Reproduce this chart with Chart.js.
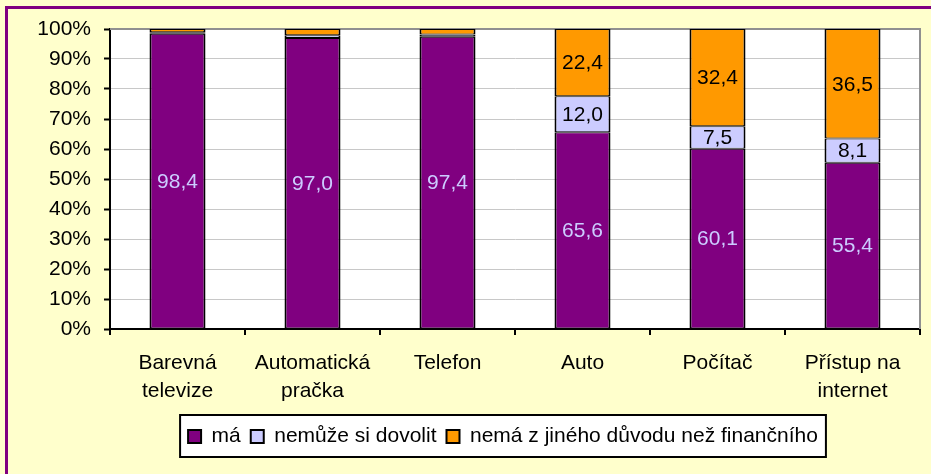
<!DOCTYPE html>
<html>
<head>
<meta charset="utf-8">
<script src="https://cdn.jsdelivr.net/npm/chart.js@4.4.1/dist/chart.umd.min.js"></script>
<style>
  html, body { margin: 0; padding: 0; background: #ffffcc; }
  #wrap { width: 931px; height: 474px; }
</style>
</head>
<body>
<div id="wrap"><canvas id="chart" width="931" height="474"></canvas></div>
<script>
// data (percent of households)
const categories = [['Barevná', 'televize'], ['Automatická', 'pračka'], 'Telefon', 'Auto', 'Počítač', ['Přístup na', 'internet']];
const ma = [98.4, 97.0, 97.4, 65.6, 60.1, 55.4];
const nemuzeSiDovolit = [0.5, 0.9, 0.8, 12.0, 7.5, 8.1];
const jinyDuvod = [1.1, 2.1, 1.8, 22.4, 32.4, 36.5];
const seriesNames = ['má', 'nemůže si dovolit', 'nemá z jiného důvodu než finančního'];
const yTicks = [0, 10, 20, 30, 40, 50, 60, 70, 80, 90, 100];

const FONT = '"Liberation Sans", Arial, sans-serif';
const LEGEND_CENTER = 503; // legend box sits right of centre in the original

// background, purple frame, white plot area, legend box
const framePlugin = {
  id: 'frame',
  afterUpdate(chart) {
    // move the legend so its box is centred where the original one is
    const lg = chart.legend;
    const boxes = lg.legendHitBoxes;
    if (!boxes || !boxes.length) return;
    const l = Math.min(...boxes.map(b => b.left));
    const r = Math.max(...boxes.map(b => b.left + b.width));
    const shift = Math.round(LEGEND_CENTER - (l + r) / 2);
    lg.left += shift;
    lg.right += shift;
    boxes.forEach(b => { b.left += shift; });
  },
  beforeDraw(chart) {
    const ctx = chart.ctx;
    const a = chart.chartArea;
    ctx.save();
    ctx.fillStyle = '#ffffcc';
    ctx.fillRect(0, 0, chart.width, chart.height);
    ctx.strokeStyle = '#800080';
    ctx.lineWidth = 3;
    ctx.strokeRect(6.5, 7.5, chart.width + 10, chart.height + 10);
    ctx.fillStyle = '#ffffff';
    ctx.fillRect(a.left, a.top, a.right - a.left, a.bottom - a.top);

    const boxes = chart.legend.legendHitBoxes;
    if (boxes && boxes.length) {
      const l = Math.min(...boxes.map(b => b.left)) - 8;
      const r = Math.max(...boxes.map(b => b.left + b.width)) + 8;
      const t = Math.min(...boxes.map(b => b.top)) - 11;
      const btm = Math.max(...boxes.map(b => b.top + b.height)) + 10;
      ctx.fillStyle = '#ffffff';
      ctx.fillRect(l, t, r - l, btm - t);
      ctx.strokeStyle = '#000';
      ctx.lineWidth = 2;
      ctx.strokeRect(l, t, r - l, btm - t);
    }
    ctx.restore();
  },
  beforeDatasetsDraw(chart) {
    const ctx = chart.ctx;
    const a = chart.chartArea;
    ctx.save();
    ctx.strokeStyle = '#909090';
    ctx.lineWidth = 2;
    ctx.beginPath();
    ctx.moveTo(a.left, a.top);
    ctx.lineTo(a.right, a.top);
    ctx.lineTo(a.right, a.bottom);
    ctx.stroke();
    ctx.restore();
  }
};

// value labels inside the segments
const labelPlugin = {
  id: 'segLabels',
  afterDatasetsDraw(chart) {
    const ctx = chart.ctx;
    ctx.save();
    ctx.font = '21px ' + FONT;
    ctx.textAlign = 'center';
    ctx.textBaseline = 'middle';
    chart.data.datasets.forEach((ds, i) => {
      const meta = chart.getDatasetMeta(i);
      meta.data.forEach((bar, j) => {
        const v = ds.data[j];
        if (v < 5) return;
        const p = bar.getProps(['x', 'y', 'base'], true);
        ctx.fillStyle = i === 0 ? '#ccccff' : '#000000';
        ctx.fillText(v.toFixed(1).replace('.', ','), p.x, (p.y + p.base) / 2 + 1);
      });
    });
    ctx.restore();
  }
};

const barStyle = {
  borderColor: '#000000',
  borderWidth: { top: 1, bottom: 1, left: 2, right: 2 },
  borderSkipped: false,
  barPercentage: 0.415,
  categoryPercentage: 1.0
};

new Chart(document.getElementById('chart').getContext('2d'), {
  type: 'bar',
  data: {
    labels: categories,
    datasets: [
      Object.assign({ label: seriesNames[0], data: ma, backgroundColor: '#800080' }, barStyle),
      Object.assign({ label: seriesNames[1], data: nemuzeSiDovolit, backgroundColor: '#ccccff' }, barStyle),
      Object.assign({ label: seriesNames[2], data: jinyDuvod, backgroundColor: '#ff9900' }, barStyle)
    ]
  },
  options: {
    responsive: false,
    animation: false,
    layout: { padding: { left: 0, top: 29, right: 11, bottom: 17 } },
    plugins: {
      legend: {
        position: 'bottom',
        labels: {
          boxWidth: 13,
          boxHeight: 13,
          padding: 10,
          color: '#000',
          font: { family: FONT, size: 21 },
          generateLabels: chart => Chart.defaults.plugins.legend.labels.generateLabels(chart).map(it => Object.assign(it, { lineWidth: 2 }))
        }
      },
      tooltip: { enabled: false }
    },
    scales: {
      x: {
        stacked: true,
        afterFit: s => { s.height = 87; },
        grid: { drawOnChartArea: false, drawTicks: true, tickLength: 6, color: '#000', lineWidth: 2 },
        border: { color: '#000', width: 2 },
        ticks: { color: '#000', padding: 14, maxRotation: 0, autoSkip: false, font: { family: FONT, size: 21, lineHeight: 1.35 } }
      },
      y: {
        stacked: true,
        min: 0,
        max: 100,
        afterFit: s => { s.width = 110; },
        afterBuildTicks: s => { s.ticks = yTicks.map(v => ({ value: v })); },
        grid: { color: '#c8c8c8', lineWidth: 1, tickColor: '#000', tickLength: 6, tickWidth: 2, tickBorderDash: [], borderDash: [2, 1] },
        border: { color: '#000', width: 2, dash: [] },
        ticks: { color: '#000', padding: 13, font: { family: FONT, size: 21 }, callback: v => v + '%' }
      }
    }
  },
  plugins: [framePlugin, labelPlugin]
});
</script>
</body>
</html>
